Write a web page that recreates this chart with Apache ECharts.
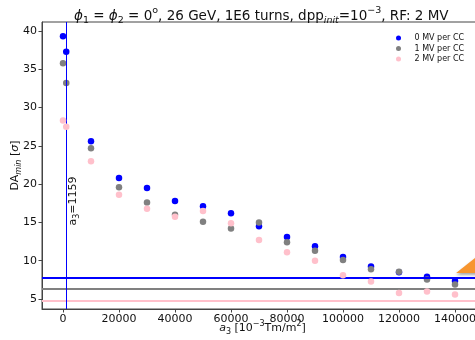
<!DOCTYPE html>
<html>
<head>
<meta charset="utf-8">
<script src="https://cdn.jsdelivr.net/npm/echarts@6/dist/echarts.min.js"></script>
<style>html,body{margin:0;padding:0;background:#fff}#c{width:475px;height:340px}</style>
</head>
<body>
<div id="c"></div>
<script>
const a3 = [0, 1159, 10000, 20000, 30000, 40000, 50000, 60000, 70000, 80000, 90000, 100000, 110000, 120000, 130000, 140000];
const da0MV = [39.3, 37.3, 25.6, 20.8, 19.5, 17.8, 17.1, 16.2, 14.5, 13.1, 11.9, 10.5, 9.25, 8.5, 7.9, 7.35];
const da1MV = [35.8, 33.2, 24.7, 19.6, 17.6, 16.0, 15.1, 14.2, 15.0, 12.4, 11.3, 10.1, 8.9, 8.55, 7.55, 6.9];
const da2MV = [28.3, 27.5, 23.0, 18.6, 16.8, 15.75, 16.5, 14.9, 12.7, 11.1, 10.0, 8.1, 7.3, 5.8, 6.0, 5.6];
const seriesNames = ['0 MV per CC', '1 MV per CC', '2 MV per CC'];
const hLineLevels = [7.73, 6.3, 4.74];
const vLineA3 = 1159;
const xTicks = [0, 20000, 40000, 60000, 80000, 100000, 120000, 140000];
const yTicks = [5, 10, 15, 20, 25, 30, 35, 40];
const arrowHead = [[140400, 8.4], [150000, 8.4], [150000, 11.2]];

const colors = ['#0000ff', '#808080', '#ffc0cb'];
const FONT = 'DejaVu Sans';
const chart = echarts.init(document.getElementById('c'), null, {renderer: 'canvas'});

function pts(ys) { return a3.map((x, i) => [x, ys[i]]); }
const sets = [da0MV, da1MV, da2MV];

const series = sets.map((ys, k) => ({
  name: seriesNames[k],
  type: 'scatter',
  data: pts(ys),
  symbol: 'circle',
  symbolSize: 6.5,
  itemStyle: {color: colors[k], opacity: 1},
  z: 3 + k,
  markLine: {
    silent: true,
    symbol: 'none',
    animation: false,
    label: {show: false},
    lineStyle: {color: colors[k], width: 2, type: 'solid'},
    data: [{yAxis: hLineLevels[k]}]
  }
}));

series.push({
  type: 'scatter',
  data: [],
  markLine: {
    silent: true, symbol: 'none', animation: false,
    label: {show: false},
    lineStyle: {color: '#0000ff', width: 1, type: 'solid'},
    data: [{xAxis: vLineA3}]
  },
  markPoint: {
    symbol: 'circle', symbolSize: 0, animation: false,
    data: [{coord: [vLineA3, 17.8]}],
    label: {
      show: true, rotate: 90, offset: [0, 7],
      formatter: '{a|a}{s|3}{n|=1159}',
      rich: {
        a: {fontFamily: FONT, fontSize: 11, color: '#111', lineHeight: 16},
        s: {fontFamily: FONT, fontSize: 8, color: '#111', verticalAlign: 'bottom', lineHeight: 9},
        n: {fontFamily: FONT, fontSize: 11, color: '#111', lineHeight: 16}
      }
    }
  }
});

series.push({
  type: 'custom',
  clip: true,
  z: 10,
  data: [0],
  renderItem: function (params, api) {
    const p = arrowHead.map(d => api.coord(d));
    return {
      type: 'polygon',
      shape: {points: p},
      style: {fill: '#f7952f', shadowColor: 'rgba(0,0,0,0.35)', shadowBlur: 3, shadowOffsetY: 2}
    };
  }
});

chart.setOption({
  animation: false,
  title: {
    text: '{i|ϕ}{s|1}{n| = }{i|ϕ}{s|2}{n| = 0}{p|o}{n|, 26 GeV, 1E6 turns, dpp}{si|init}{n|=10}{p|−3}{n|, RF: 2 MV}',
    left: 69, top: 1,
    textStyle: {
      fontWeight: 'normal',
      rich: {
        n: {fontFamily: FONT, fontSize: 13.5, fontWeight: 'normal', color: '#111', lineHeight: 20},
        i: {fontFamily: FONT, fontSize: 13.5, fontWeight: 'normal', fontStyle: 'italic', color: '#111', lineHeight: 20},
        s: {fontFamily: FONT, fontSize: 9.5, fontWeight: 'normal', color: '#111', verticalAlign: 'bottom', lineHeight: 10},
        si: {fontFamily: FONT, fontSize: 9.5, fontWeight: 'normal', fontStyle: 'italic', color: '#111', verticalAlign: 'bottom', lineHeight: 10},
        p: {fontFamily: FONT, fontSize: 9.5, fontWeight: 'normal', color: '#111', verticalAlign: 'top', lineHeight: 10}
      }
    }
  },
  legend: {
    data: seriesNames,
    orient: 'vertical',
    left: 391, top: 29,
    icon: 'circle',
    itemWidth: 22, itemHeight: 5, itemGap: 2.5,
    textStyle: {fontFamily: FONT, fontSize: 8, color: '#111', lineHeight: 8}
  },
  grid: {left: 42, right: -8, top: 22, bottom: 31, show: true, borderColor: '#444', borderWidth: 1, containLabel: false, outerBoundsMode: 'none'},
  xAxis: {
    type: 'value', min: -7500, max: 150000,
    name: '{a|a}{s|3}{n| [10}{p|−3}{n|Tm/m}{p|2}{n|]}',
    nameLocation: 'middle', nameGap: 11, nameMoveOverlap: false,
    nameTextStyle: {
      rich: {
        a: {fontFamily: FONT, fontSize: 11, fontStyle: 'italic', color: '#111', lineHeight: 16},
        n: {fontFamily: FONT, fontSize: 11, color: '#111', lineHeight: 16},
        s: {fontFamily: FONT, fontSize: 8, color: '#111', verticalAlign: 'bottom', lineHeight: 8},
        p: {fontFamily: FONT, fontSize: 8, color: '#111', verticalAlign: 'top', lineHeight: 8}
      }
    },
    axisLine: {show: true, onZero: false, lineStyle: {color: '#444', width: 1}},
    axisTick: {show: true, customValues: xTicks, length: 3.5, inside: false, lineStyle: {color: '#444'}},
    axisLabel: {customValues: xTicks, formatter: v => String(v), fontFamily: FONT, fontSize: 11, color: '#111', margin: 5},
    splitLine: {show: false}
  },
  yAxis: {
    type: 'value', min: 3.7, max: 41.17,
    name: '{n|DA}{s|min}{n| [}{i|σ}{n|]}',
    nameLocation: 'middle', nameGap: 19, nameRotate: 90, nameMoveOverlap: false,
    nameTextStyle: {
      rich: {
        n: {fontFamily: FONT, fontSize: 11, color: '#111', lineHeight: 16},
        i: {fontFamily: FONT, fontSize: 11, fontStyle: 'italic', color: '#111', lineHeight: 16},
        s: {fontFamily: FONT, fontSize: 8, fontStyle: 'italic', color: '#111', verticalAlign: 'bottom', lineHeight: 8}
      }
    },
    axisLine: {show: true, onZero: false, lineStyle: {color: '#444', width: 1}},
    axisTick: {show: true, customValues: yTicks, length: 3.5, inside: false, lineStyle: {color: '#444'}},
    axisLabel: {customValues: yTicks, formatter: v => String(v), fontFamily: FONT, fontSize: 11, color: '#111', margin: 5},
    splitLine: {show: false}
  },
  series: series
});
</script>
</body>
</html>
